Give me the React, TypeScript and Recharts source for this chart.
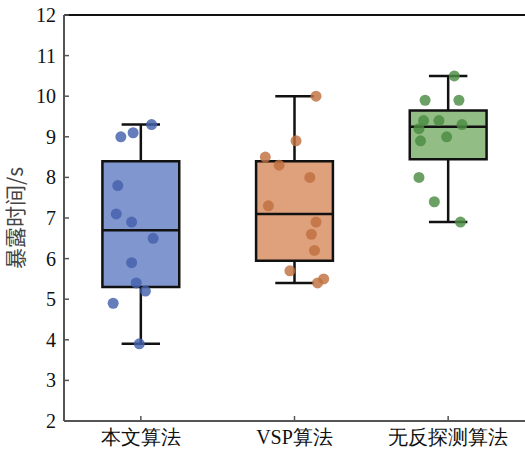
import React from 'react';
import {
  ComposedChart,
  XAxis,
  YAxis,
  Scatter,
  ReferenceArea,
  ReferenceLine,
} from 'recharts';

// Categories
const categories = ['本文算法', 'VSP算法', '无反探测算法'];

// Box statistics per category
const whiskerLow = [3.9, 5.4, 6.9];
const quartile1 = [5.3, 5.95, 8.45];
const medians = [6.7, 7.1, 9.25];
const quartile3 = [8.4, 8.4, 9.65];
const whiskerHigh = [9.3, 10.0, 10.5];

// Raw observations per category
const pointsOurs = [9.3, 9.0, 9.1, 7.8, 7.1, 6.9, 6.5, 5.9, 5.4, 5.2, 4.9, 3.9];
const pointsVSP = [10.0, 8.9, 8.5, 8.3, 8.0, 7.3, 6.9, 6.6, 6.2, 5.7, 5.5, 5.4];
const pointsNoFeedback = [10.5, 9.9, 9.9, 9.4, 9.4, 9.3, 9.2, 9.0, 8.9, 8.0, 7.4, 6.9];

// Horizontal jitter of each observation (in category units)
const jitterOurs = [0.07, -0.13, -0.05, -0.15, -0.16, -0.06, 0.08, -0.06, -0.03, 0.03, -0.18, -0.01];
const jitterVSP = [0.14, 0.01, -0.19, -0.1, 0.1, -0.17, 0.14, 0.11, 0.13, -0.03, 0.19, 0.15];
const jitterNoFeedback = [0.04, -0.15, 0.07, -0.16, -0.06, 0.09, -0.19, -0.01, -0.18, -0.19, -0.09, 0.08];

const yTicks = [2, 3, 4, 5, 6, 7, 8, 9, 10, 11, 12];
const xTicks = [1, 2, 3];

const boxFills = ['#8096cf', '#dfa07c', '#92bd84'];
const pointFills = ['#4460ac', '#c07040', '#4a8c42'];

const groups = [
  { values: pointsOurs, jitter: jitterOurs },
  { values: pointsVSP, jitter: jitterVSP },
  { values: pointsNoFeedback, jitter: jitterNoFeedback },
];

const scatterData = groups.map((g, gi) =>
  g.values.map((v, i) => ({ x: gi + 1 + g.jitter[i], y: v }))
);

const BOX_HALF = 0.25;
const CAP_HALF = 0.125;
const LINE = '#111';

const serif = 'Liberation Serif';

const XTick = (props: any) => {
  const { x, y, payload } = props;
  return (
    <g>
      <text
        x={x}
        y={y}
        dy={15}
        textAnchor="middle"
        fill="#111"
        style={{ fontFamily: serif, fontSize: '20px' }}
      >
        {categories[payload.value - 1]}
      </text>
    </g>
  );
};

const YTick = (props: any) => {
  const { x, y, payload } = props;
  return (
    <g>
      <text
        x={x}
        y={y}
        dy={7}
        textAnchor="end"
        fill="#111"
        style={{ fontFamily: serif, fontSize: '20px' }}
      >
        {String(payload.value)}
      </text>
    </g>
  );
};

export default function App() {
  return (
    <div style={{ position: 'absolute', left: 0, top: 0, fontFamily: serif }}>
      <ComposedChart
        width={525}
        height={461}
        margin={{ top: 15, right: 0, bottom: 0, left: 0 }}
        style={{ fontFamily: serif }}
      >
        <XAxis
          type="number"
          dataKey="x"
          domain={[0.5, 3.5]}
          ticks={xTicks}
          height={40}
          tickSize={-5}
          tickMargin={13}
          axisLine={{ stroke: '#555', strokeWidth: 2 }}
          tickLine={{ stroke: '#555', strokeWidth: 1.5 }}
          tick={XTick}
          interval={0}
        />
        <YAxis
          type="number"
          dataKey="y"
          domain={[2, 12]}
          ticks={yTicks}
          width={64}
          tickSize={-5}
          tickMargin={13}
          axisLine={{ stroke: '#555', strokeWidth: 2 }}
          tickLine={{ stroke: '#555', strokeWidth: 1.5 }}
          tick={YTick}
          interval={0}
          label={{
            value: '暴露时间/s',
            angle: -90,
            position: 'insideLeft',
            offset: 16,
            style: {
              textAnchor: 'middle',
              fontSize: 21,
              fill: '#444',
              fontFamily: "'Noto Sans CJK SC', sans-serif",
            },
          }}
        />
        <ReferenceLine y={12} stroke={LINE} strokeWidth={2} />
        {categories.map((c, i) => (
          <ReferenceArea
            key={'box' + c}
            x1={i + 1 - BOX_HALF}
            x2={i + 1 + BOX_HALF}
            y1={quartile1[i]}
            y2={quartile3[i]}
            fill={boxFills[i]}
            fillOpacity={1}
            stroke={LINE}
            strokeWidth={2.5}
          />
        ))}
        {categories.map((c, i) => (
          <ReferenceLine
            key={'med' + c}
            segment={[
              { x: i + 1 - BOX_HALF, y: medians[i] },
              { x: i + 1 + BOX_HALF, y: medians[i] },
            ]}
            stroke={LINE}
            strokeWidth={2.5}
          />
        ))}
        {categories.map((c, i) => (
          <ReferenceLine
            key={'wu' + c}
            segment={[
              { x: i + 1, y: quartile3[i] },
              { x: i + 1, y: whiskerHigh[i] },
            ]}
            stroke={LINE}
            strokeWidth={2.5}
          />
        ))}
        {categories.map((c, i) => (
          <ReferenceLine
            key={'wl' + c}
            segment={[
              { x: i + 1, y: whiskerLow[i] },
              { x: i + 1, y: quartile1[i] },
            ]}
            stroke={LINE}
            strokeWidth={2.5}
          />
        ))}
        {categories.map((c, i) => (
          <ReferenceLine
            key={'cu' + c}
            segment={[
              { x: i + 1 - CAP_HALF, y: whiskerHigh[i] },
              { x: i + 1 + CAP_HALF, y: whiskerHigh[i] },
            ]}
            stroke={LINE}
            strokeWidth={2.5}
          />
        ))}
        {categories.map((c, i) => (
          <ReferenceLine
            key={'cl' + c}
            segment={[
              { x: i + 1 - CAP_HALF, y: whiskerLow[i] },
              { x: i + 1 + CAP_HALF, y: whiskerLow[i] },
            ]}
            stroke={LINE}
            strokeWidth={2.5}
          />
        ))}
        {categories.map((c, i) => (
          <Scatter
            key={'pts' + c}
            data={scatterData[i]}
            isAnimationActive={false}
            shape={(props: any) => (
              <circle
                cx={props.cx}
                cy={props.cy}
                r={5.5}
                fill={pointFills[i]}
                fillOpacity={0.82}
              />
            )}
          />
        ))}
      </ComposedChart>
    </div>
  );
}
